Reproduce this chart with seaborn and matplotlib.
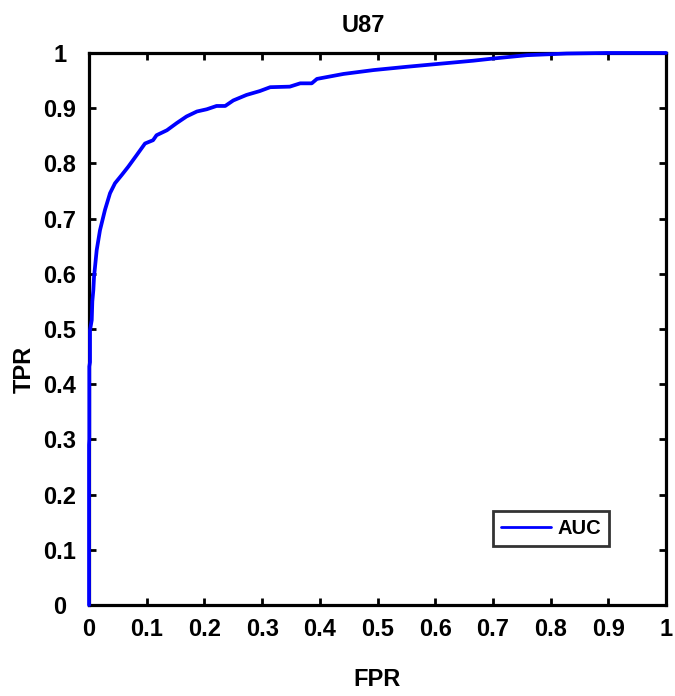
import matplotlib
matplotlib.use("Agg")
import matplotlib.pyplot as plt
import seaborn as sns
import pandas as pd

# ROC curve points for the U87 cell line
fpr = [0.0, 0.0, 0.0005, 0.0005, 0.0017, 0.0017, 0.0047, 0.0057, 0.0075, 0.0087,
       0.0133, 0.019, 0.0277, 0.0364, 0.045, 0.0567, 0.068, 0.0826, 0.097, 0.111,
       0.117, 0.135, 0.152, 0.169, 0.187, 0.204, 0.221, 0.236, 0.25, 0.273,
       0.296, 0.314, 0.348, 0.366, 0.386, 0.395, 0.441, 0.493, 0.551, 0.603,
       0.666, 0.701, 0.759, 0.828, 0.897, 1.0]
tpr = [0.0, 0.29, 0.30, 0.432, 0.44, 0.498, 0.516, 0.55, 0.571, 0.595,
       0.643, 0.679, 0.716, 0.746, 0.764, 0.779, 0.794, 0.815, 0.836, 0.842,
       0.851, 0.86, 0.873, 0.885, 0.894, 0.898, 0.904, 0.904, 0.914, 0.924,
       0.931, 0.938, 0.939, 0.945, 0.945, 0.953, 0.962, 0.969, 0.975, 0.98,
       0.986, 0.99, 0.996, 0.999, 1.0, 1.0]

ticks = [0, 0.1, 0.2, 0.3, 0.4, 0.5, 0.6, 0.7, 0.8, 0.9, 1]
tick_labels = ["0", "0.1", "0.2", "0.3", "0.4", "0.5", "0.6", "0.7", "0.8", "0.9", "1"]

sns.set_style("ticks")
plt.rcParams["font.family"] = ["Liberation Sans", "DejaVu Sans"]
plt.rcParams["font.weight"] = "bold"
for key in ["text.color", "axes.labelcolor", "xtick.color", "ytick.color", "axes.edgecolor"]:
    plt.rcParams[key] = "black"

df = pd.DataFrame({"FPR": fpr, "TPR": tpr, "series": "AUC"})

fig = plt.figure(figsize=(6.75, 6.96), dpi=100)
ax = fig.add_axes([0.1319, 0.1307, 0.8548, 0.7932])

sns.lineplot(data=df, x="FPR", y="TPR", hue="series", palette=["#0000ff"],
             linewidth=2.7, sort=False, estimator=None, ax=ax)
for ln in ax.get_lines():
    ln.set_clip_on(False)
    ln.set_zorder(3)

ax.set_xlim(0, 1)
ax.set_ylim(0, 1)
ax.set_xticks(ticks)
ax.set_xticklabels(tick_labels)
ax.set_yticks(ticks)
ax.set_yticklabels(tick_labels)
ax.tick_params(direction="in", length=5, width=2, top=True, right=True,
               labelsize=17)
ax.tick_params(axis="x", pad=9)
ax.tick_params(axis="y", pad=21)
for lab in ax.get_xticklabels() + ax.get_yticklabels():
    lab.set_fontweight("bold")
for lab in ax.get_yticklabels():
    lab.set_horizontalalignment("center")
for sp in ax.spines.values():
    sp.set_visible(True)
    sp.set_linewidth(2.3)
    sp.set_color("black")

ax.set_xlabel("FPR", fontsize=17, fontweight="bold", va="center")
ax.xaxis.set_label_coords(0.499, -0.134)
ax.set_ylabel("TPR", fontsize=17, fontweight="bold", va="center")
ax.yaxis.set_label_coords(-0.1127, 0.426)
ax.text(0.475, 1.038, "U87", transform=ax.transAxes, fontsize=17,
        fontweight="bold", ha="center", va="baseline")

leg = ax.legend(loc="lower left", bbox_to_anchor=(0.700, 0.107), frameon=True,
                fancybox=False, edgecolor="black", fontsize=14.5,
                handlelength=2.5, borderpad=0.4, handletextpad=0.3,
                borderaxespad=0)
leg.get_frame().set_linewidth(2)
for t in leg.get_texts():
    t.set_fontweight("bold")
for h in leg.get_lines():
    h.set_linewidth(2)

fig.savefig("out.png", dpi=100)
